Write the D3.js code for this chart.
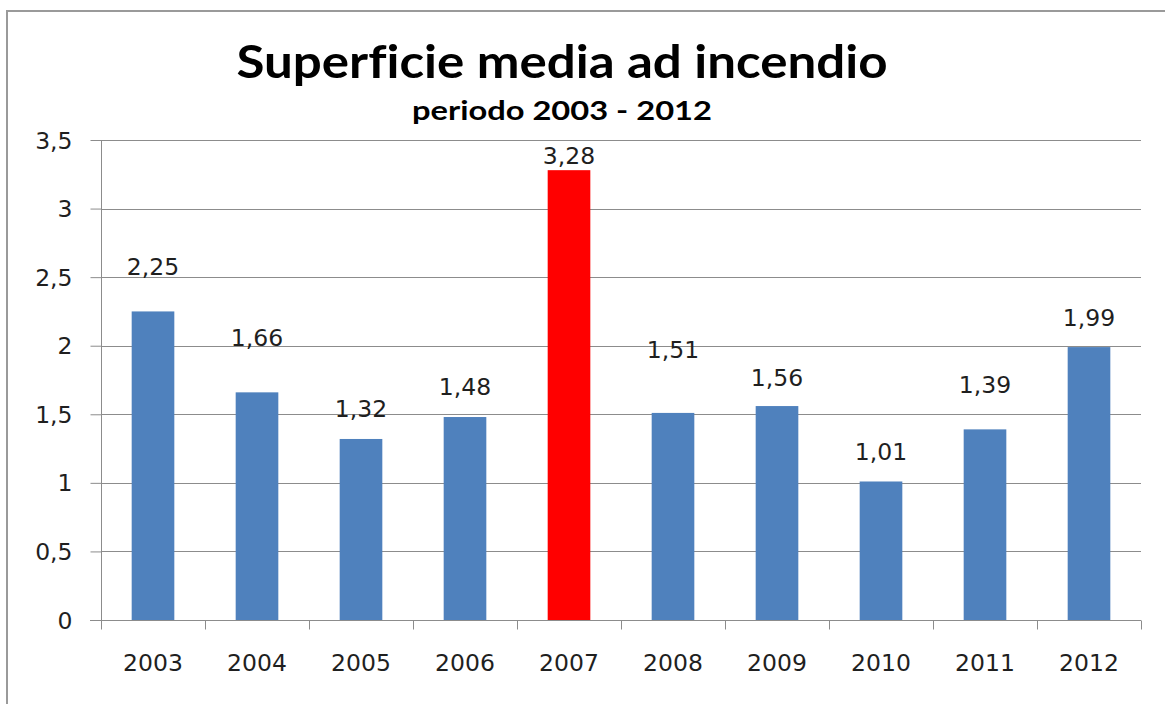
<!DOCTYPE html>
<html>
<head>
<meta charset="utf-8">
<script src="https://cdnjs.cloudflare.com/ajax/libs/d3/7.8.5/d3.min.js"></script>
<style>
  html, body { margin: 0; padding: 0; background: #fff; }
  svg { display: block; }
  text { font-variant-ligatures: none; }
</style>
</head>
<body>
<svg id="chart" width="1165" height="704"></svg>
<script>
// Average burnt area per fire, 2003–2012
const years = ["2003", "2004", "2005", "2006", "2007", "2008", "2009", "2010", "2011", "2012"];
const values = [2.25, 1.66, 1.32, 1.48, 3.28, 1.51, 1.56, 1.01, 1.39, 1.99];
const highlightYear = "2007";
const yTicks = [0, 0.5, 1, 1.5, 2, 2.5, 3, 3.5];

// Vertical gap (px) between each bar top and the baseline of its value label
const labelGap = [36, 46, 22, 22, 6, 55, 20, 21, 36, 21];

const W = 1165, H = 704;
const plot = { left: 101, right: 1141, top: 140, bottom: 620 };
const fmt = v => d3.format(".2f")(v).replace(".", ",");
const tickFmt = v => String(v).replace(".", ",");
const labelFont = "DejaVu Sans";
const labelSize = 23.5;
const textColor = "#1f1f1f";

const svg = d3.select("#chart");

// Chart frame
svg.append("rect")
  .attr("x", 7).attr("y", 11)
  .attr("width", W + 10).attr("height", H + 10)
  .attr("fill", "#fff")
  .attr("stroke", "#9a9a9a")
  .attr("stroke-width", 2);

const x = d3.scaleBand().domain(years).range([plot.left, plot.right]).padding(0);
const y = d3.scaleLinear().domain([0, 3.5]).range([plot.bottom, plot.top]);

// Horizontal gridlines
svg.append("g")
  .selectAll("line")
  .data(yTicks.filter(t => t > 0))
  .join("line")
  .attr("x1", plot.left).attr("x2", plot.right)
  .attr("y1", d => Math.round(y(d)) + 0.5).attr("y2", d => Math.round(y(d)) + 0.5)
  .attr("stroke", "#8c8c8c").attr("stroke-width", 1);

// Bars
const barW = x.bandwidth() * 0.41;
svg.append("g")
  .selectAll("rect")
  .data(years.map((yr, i) => ({ yr, v: values[i], i })))
  .join("rect")
  .attr("x", d => x(d.yr) + (x.bandwidth() - barW) / 2)
  .attr("y", d => y(d.v))
  .attr("width", barW)
  .attr("height", d => y(0) - y(d.v))
  .attr("fill", d => d.yr === highlightYear ? "#ff0000" : "#4f81bd");

// Y axis
const yAxis = d3.axisLeft(y).tickValues(yTicks).tickFormat(tickFmt).tickSize(11).tickPadding(18);
const gy = svg.append("g").attr("transform", `translate(${plot.left + 0.5},0)`).call(yAxis);
gy.select(".domain").attr("stroke", "#8c8c8c").attr("d", `M0,${plot.top}V${plot.bottom}`);
gy.selectAll(".tick line").attr("stroke", "#8c8c8c");
gy.selectAll(".tick text")
  .attr("font-family", labelFont).attr("font-size", labelSize).attr("fill", textColor)
  .attr("dy", "0.34em");

// X axis: ticks sit on category boundaries
const xAxis = d3.axisBottom(x).tickSize(0).tickPadding(34);
const gx = svg.append("g").attr("transform", `translate(0,${Math.round(plot.bottom) + 0.5})`).call(xAxis);
gx.select(".domain").attr("stroke", "#8c8c8c").attr("d", `M${plot.left - 11},0H${plot.right}`);
gx.selectAll(".tick text")
  .attr("font-family", labelFont).attr("font-size", labelSize).attr("fill", textColor);
gx.append("g")
  .selectAll("line")
  .data(years.map(yr => x(yr)).concat([plot.right]))
  .join("line")
  .attr("x1", d => Math.round(d) + 0.5).attr("x2", d => Math.round(d) + 0.5)
  .attr("y1", 0).attr("y2", 9)
  .attr("stroke", "#8c8c8c");

// Value labels
svg.append("g")
  .selectAll("text")
  .data(years.map((yr, i) => ({ yr, v: values[i], i })))
  .join("text")
  .attr("x", d => x(d.yr) + x.bandwidth() / 2)
  .attr("y", d => y(d.v) - labelGap[d.i])
  .attr("text-anchor", "middle")
  .attr("font-family", labelFont).attr("font-size", labelSize).attr("fill", textColor)
  .text(d => fmt(d.v));

// Titles
svg.append("text")
  .attr("x", 562).attr("y", 78)
  .attr("text-anchor", "middle")
  .attr("font-family", "Lato").attr("font-weight", "bold").attr("font-size", 46)
  .attr("textLength", 651).attr("lengthAdjust", "spacingAndGlyphs")
  .attr("fill", "#000")
  .text("Superficie media ad incendio");

svg.append("text")
  .attr("x", 562).attr("y", 120)
  .attr("text-anchor", "middle")
  .attr("font-family", "Lato").attr("font-weight", "bold").attr("font-size", 26)
  .attr("textLength", 300).attr("lengthAdjust", "spacingAndGlyphs")
  .attr("fill", "#000")
  .text("periodo 2003 - 2012");
</script>
</body>
</html>
